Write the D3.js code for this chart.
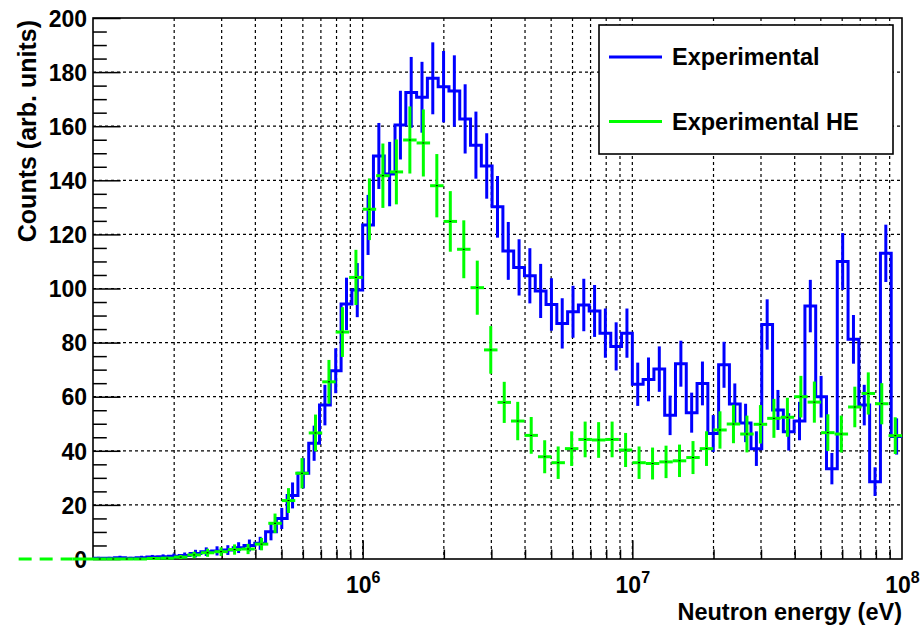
<!DOCTYPE html>
<html>
<head>
<meta charset="utf-8">
<script src="https://cdn.jsdelivr.net/npm/d3@7"></script>
<style>
  html, body { margin: 0; padding: 0; background: #fff; }
  svg text { font-family: "Liberation Sans", Arial, Helvetica, sans-serif; font-weight: bold; fill: #000; }
</style>
</head>
<body>
<svg id="chart" width="920" height="625"></svg>
<script>
// Energy range of the histograms (eV), log-spaced bins
const energyRange = [1e5, 1e8];

// "Experimental": 25 bins per decade from 1e5 to 1e8 eV
const expBinsPerDecade = 25;
const expCounts = [
  0.3, 0.3, 0.5, 0.3, 0.5, 0.7, 0.8, 1.0, 1.3, 2.0,
  2.7, 3.0, 3.3, 4.2, 5.0, 5.8, 10.1, 15.0, 23.5, 31.7,
  42.8, 56.9, 69.6, 94.3, 99.4, 123.5, 149.0, 142.3, 160.4, 172.5,
  170.7, 177.7, 174.6, 173.0, 162.7, 153.0, 145.3, 130.2, 113.9, 107.8,
  104.7, 99.1, 94.1, 87.1, 91.4, 93.9, 91.7, 83.5, 78.6, 83.5,
  64.6, 66.4, 70.2, 53.1, 72.2, 54.1, 64.9, 46.4, 71.8, 57.3,
  50.3, 40.8, 86.7, 55.1, 47.0, 51.0, 93.5, 60.0, 33.4, 110.0,
  81.2, 56.9, 28.6, 113.0, 45.3
];
const expErrors = [
  0.5, 0.5, 0.7, 0.5, 0.7, 0.8, 0.9, 1.0, 1.1, 1.4,
  1.6, 1.7, 1.8, 2.0, 2.2, 2.4, 3.2, 3.9, 4.8, 5.6,
  6.5, 7.5, 8.3, 9.7, 10.0, 11.1, 12.2, 11.9, 12.7, 13.1,
  13.1, 13.3, 13.2, 13.2, 12.8, 12.4, 12.1, 11.4, 10.7, 10.4,
  10.2, 10.0, 9.7, 9.3, 9.6, 9.7, 9.6, 9.1, 8.9, 9.1,
  8.0, 8.1, 8.4, 7.3, 8.5, 7.4, 8.1, 6.8, 8.5, 7.6,
  7.1, 6.4, 9.3, 7.4, 6.9, 7.1, 9.7, 7.7, 5.8, 10.5,
  9.0, 7.5, 5.3, 10.6, 6.7
];

// "Experimental HE": 20 bins per decade from 1e5 to 1e8 eV
const heBinsPerDecade = 20;
const heCounts = [
  0, 0, 0, 0, 0.2, 0.3, 0.7, 1.5, 2.3, 2.7,
  3.5, 3.7, 5.5, 13.2, 21.6, 31.7, 46.6, 65.5, 83.9, 104.1,
  129.3, 141.7, 143.1, 154.9, 153.8, 138.0, 124.8, 114.5, 100.3, 77.3,
  57.9, 51.0, 45.7, 37.8, 35.6, 40.8, 44.2, 44.0, 44.2, 40.3,
  35.6, 35.3, 35.9, 36.3, 37.5, 40.8, 47.7, 49.9, 46.2, 49.8,
  52.0, 52.4, 60.0, 58.0, 46.7, 46.2, 56.2, 61.2, 57.4, 45.6
];
const heErrors = [
  0, 0, 0, 0, 0.4, 0.5, 0.8, 1.2, 1.5, 1.6,
  1.9, 1.9, 2.3, 3.6, 4.6, 5.6, 6.8, 8.1, 9.2, 10.2,
  11.4, 11.9, 12.0, 12.4, 12.4, 11.7, 11.2, 10.7, 10.0, 8.8,
  7.6, 7.1, 6.8, 6.1, 6.0, 6.4, 6.6, 6.6, 6.6, 6.3,
  6.0, 5.9, 6.0, 6.0, 6.1, 6.4, 6.9, 7.1, 6.8, 7.1,
  7.2, 7.2, 7.7, 7.6, 6.8, 6.8, 7.5, 7.8, 7.6, 6.8
];
// HE baseline drawn below the axis range (dashed part, then solid part)
const heBaselineStart = 5.3e4;
const heBaselineSolidFrom = 8.4e4;

// Axis ticks and labels
const yRange = [0, 200];
const yMajorTicks = [0, 20, 40, 60, 80, 100, 120, 140, 160, 180, 200];
const yMinorStep = 5;
const xLabelDecades = [6, 7, 8];
const legendLabels = ["Experimental", "Experimental HE"];
const xTitle = "Neutron energy (eV)";
const yTitle = "Counts (arb. units)";

const colors = { exp: "#0000ff", he: "#00ff00" };

// ---- layout ----
const svg = d3.select("#chart");
const plot = { left: 93, right: 902, top: 18, bottom: 559 };

const x = d3.scaleLog().domain(energyRange).range([plot.left, plot.right]);
const y = d3.scaleLinear().domain(yRange).range([plot.bottom, plot.top]);

function binEdges(perDecade, n) {
  const lo = Math.log10(energyRange[0]);
  return d3.range(n + 1).map(i => Math.pow(10, lo + i / perDecade));
}
const expEdges = binEdges(expBinsPerDecade, expCounts.length);
const heEdges = binEdges(heBinsPerDecade, heCounts.length);

const expBins = expCounts.map((v, i) => ({
  lo: expEdges[i], hi: expEdges[i + 1], c: Math.sqrt(expEdges[i] * expEdges[i + 1]), v, e: expErrors[i]
}));
const heBins = heCounts.map((v, i) => ({
  lo: heEdges[i], hi: heEdges[i + 1], c: Math.sqrt(heEdges[i] * heEdges[i + 1]), v, e: heErrors[i]
}));

// ---- grid ----
const grid = svg.append("g").attr("stroke", "#000").attr("stroke-width", 1.2)
  .attr("stroke-dasharray", "3,3");
const xGridVals = x.ticks().filter(d => d > energyRange[0] * 1.001 && d < energyRange[1] * 0.999);
grid.selectAll("line.gx").data(xGridVals).join("line")
  .attr("x1", d => x(d)).attr("x2", d => x(d))
  .attr("y1", plot.top).attr("y2", plot.bottom);
grid.selectAll("line.gy").data(yMajorTicks.filter(d => d > yRange[0] && d < yRange[1])).join("line")
  .attr("x1", plot.left).attr("x2", plot.right)
  .attr("y1", d => y(d)).attr("y2", d => y(d));

// ---- y axis: labels, major and minor ticks ----
const yLabels = svg.append("g").attr("transform", `translate(${plot.left},0)`)
  .call(d3.axisLeft(y).tickValues(yMajorTicks).tickSize(0).tickPadding(6).tickFormat(d3.format("d")));
yLabels.select(".domain").remove();
yLabels.selectAll("text").attr("font-size", 23).attr("font-family", null).attr("dy", "0.36em");

const yMajor = svg.append("g").attr("transform", `translate(${plot.left},0)`)
  .call(d3.axisRight(y).tickValues(yMajorTicks).tickSize(27.6).tickFormat(""));
const yMinor = svg.append("g").attr("transform", `translate(${plot.left},0)`)
  .call(d3.axisRight(y).tickValues(d3.range(yRange[0], yRange[1] + 1, yMinorStep).filter(d => d % 20 !== 0))
    .tickSize(13.8).tickFormat(""));
[yMajor, yMinor].forEach(g => {
  g.select(".domain").remove();
  g.selectAll("line").attr("stroke", "#000").attr("stroke-width", 1.5);
});

// ---- x axis: ticks pointing up into the frame ----
const xDecadeVals = xLabelDecades.map(p => Math.pow(10, p));
const xMajor = svg.append("g").attr("transform", `translate(0,${plot.bottom})`)
  .call(d3.axisTop(x).tickValues(xDecadeVals.filter(d => d < energyRange[1])).tickSize(18.8).tickFormat(""));
const xMinor = svg.append("g").attr("transform", `translate(0,${plot.bottom})`)
  .call(d3.axisTop(x).tickValues(xGridVals.filter(d => !xDecadeVals.includes(d))).tickSize(9.4).tickFormat(""));
[xMajor, xMinor].forEach(g => {
  g.select(".domain").remove();
  g.selectAll("line").attr("stroke", "#000").attr("stroke-width", 1.5);
});

// decade labels 10^n
const xLabels = svg.append("g").attr("transform", `translate(0,${plot.bottom})`)
  .call(d3.axisBottom(x).tickValues(xDecadeVals).tickSize(0).tickFormat(""));
xLabels.select(".domain").remove();
xLabels.selectAll(".tick").each(function (d) {
  const t = d3.select(this).append("text")
    .attr("y", 34).attr("text-anchor", "middle").attr("font-size", 23);
  t.append("tspan").text("10");
  t.append("tspan").attr("font-size", 16).attr("dy", -10).text(Math.round(Math.log10(d)));
});

// ---- frame ----
svg.append("rect")
  .attr("x", plot.left).attr("y", plot.top)
  .attr("width", plot.right - plot.left).attr("height", plot.bottom - plot.top)
  .attr("fill", "none").attr("stroke", "#000").attr("stroke-width", 1.6);

// ---- titles ----
svg.append("text")
  .attr("x", plot.right).attr("y", 620)
  .attr("text-anchor", "end").attr("font-size", 23.5)
  .text(xTitle);
svg.append("text")
  .attr("transform", `translate(36,${plot.top + 2}) rotate(-90)`)
  .attr("text-anchor", "end").attr("font-size", 25)
  .text(yTitle);

// ---- Experimental: step outline + vertical error bars ----
const stepPts = [];
expBins.forEach(b => { stepPts.push([x(b.lo), y(b.v)]); stepPts.push([x(b.hi), y(b.v)]); });
svg.append("path")
  .attr("d", d3.line()(stepPts))
  .attr("fill", "none").attr("stroke", colors.exp).attr("stroke-width", 3)
  .attr("stroke-linejoin", "miter");
svg.append("g").attr("stroke", colors.exp).attr("stroke-width", 3)
  .selectAll("line").data(expBins.filter(b => b.e > 0)).join("line")
  .attr("x1", b => x(b.c)).attr("x2", b => x(b.c))
  .attr("y1", b => y(Math.max(0, b.v - b.e))).attr("y2", b => y(b.v + b.e));

// ---- Experimental HE: horizontal bin bars + vertical error bars ----
const he = svg.append("g").attr("stroke", colors.he).attr("stroke-width", 3);
he.append("line")
  .attr("x1", x(heBaselineStart)).attr("x2", x(heBaselineSolidFrom))
  .attr("y1", y(0)).attr("y2", y(0))
  .attr("stroke-dasharray", "13,8");
he.append("line")
  .attr("x1", x(heBaselineSolidFrom)).attr("x2", x(energyRange[0]))
  .attr("y1", y(0)).attr("y2", y(0));
he.selectAll("line.h").data(heBins).join("line").attr("class", "h")
  .attr("x1", b => x(b.lo)).attr("x2", b => x(b.hi))
  .attr("y1", b => y(b.v)).attr("y2", b => y(b.v));
he.selectAll("line.v").data(heBins.filter(b => b.e > 0)).join("line").attr("class", "v")
  .attr("x1", b => x(b.c)).attr("x2", b => x(b.c))
  .attr("y1", b => y(Math.max(0, b.v - b.e))).attr("y2", b => y(b.v + b.e));
svg.append("g").selectAll("rect").data(heBins).join("rect")
  .attr("x", b => x(b.c) - 1).attr("y", b => y(b.v) - 0.5)
  .attr("width", 2).attr("height", 1).attr("fill", "#000");

// ---- legend ----
const legend = svg.append("g");
legend.append("rect")
  .attr("x", 599).attr("y", 25).attr("width", 294).attr("height", 129)
  .attr("fill", "#fff").attr("stroke", "#000").attr("stroke-width", 1.6);
const legendRows = [
  { label: legendLabels[0], color: colors.exp, cy: 57 },
  { label: legendLabels[1], color: colors.he, cy: 121.5 }
];
legendRows.forEach(r => {
  legend.append("line")
    .attr("x1", 609).attr("x2", 662).attr("y1", r.cy).attr("y2", r.cy)
    .attr("stroke", r.color).attr("stroke-width", 3);
  legend.append("text")
    .attr("x", 672).attr("y", r.cy).attr("dy", "0.36em")
    .attr("font-size", 23.5).text(r.label);
});
</script>
</body>
</html>
